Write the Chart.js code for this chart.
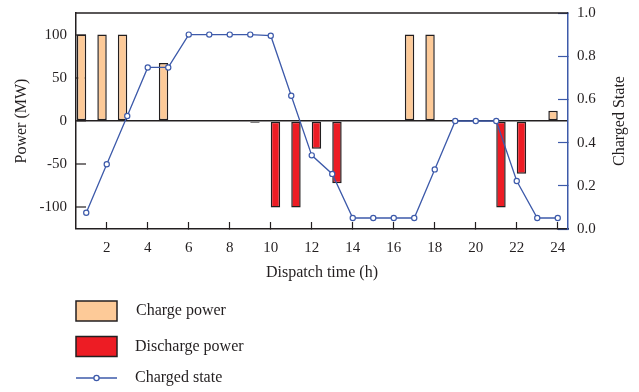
<!DOCTYPE html>
<html>
<head>
<meta charset="utf-8">
<script src="https://cdn.jsdelivr.net/npm/chart.js@4/dist/chart.umd.min.js"></script>
<style>
  html, body { margin: 0; padding: 0; background: #ffffff; }
  #wrap { width: 639px; height: 392px; position: relative; }
</style>
</head>
<body>
<div id="wrap"><canvas id="c"></canvas></div>
<script>
// ---- data ----
const hours = ['1','2','3','4','5','6','7','8','9','10','11','12','13','14','15','16','17','18','19','20','21','22','23','24'];
const chargePower    = [100, 100, 100, 0, 67, 0, 0, 0, 0, 0, 0, 0, 0, 0, 0, 0, 100, 100, 0, 0, 0, 0, 0, 12];
const dischargePower = [0, 0, 0, 0, 0, 0, 0, 0, -2, -100, -100, -32, -72, 0, 0, 0, 0, 0, 0, 0, -100, -61, 0, 0];
const chargedState   = [0.075, 0.30, 0.523, 0.748, 0.748, 0.90, 0.90, 0.90, 0.90, 0.895, 0.617, 0.341, 0.255, 0.051, 0.051, 0.051, 0.051, 0.276, 0.50, 0.50, 0.50, 0.222, 0.051, 0.051];
const powerTicks = [-100, -50, 0, 50, 100];
const stateTicks = [0, 0.2, 0.4, 0.6, 0.8, 1.0];
const seriesNames = ['Charge power', 'Discharge power', 'Charged state'];
const xTitle = 'Dispatch time (h)';
const yLeftTitle = 'Power (MW)';
const yRightTitle = 'Charged State';

const FONT = "'Liberation Serif', 'DejaVu Serif', serif";
const INK = '#231f20';
const BLUE = '#3d5aaa';
const PEACH = '#fdca98';
const RED = '#ed1c24';

const frameAndLegend = {
  id: 'frameAndLegend',
  afterDraw(chart) {
    const ctx = chart.ctx;
    const a = chart.chartArea;
    ctx.save();
    // top frame line
    ctx.strokeStyle = INK;
    ctx.lineWidth = 1.5;
    ctx.beginPath();
    ctx.moveTo(a.left, a.top);
    ctx.lineTo(a.right, a.top);
    ctx.stroke();
    // right title, reading bottom-to-top
    ctx.fillStyle = INK;
    ctx.font = '16px ' + FONT;
    ctx.textAlign = 'center';
    ctx.textBaseline = 'middle';
    ctx.translate(a.right + 52, (a.top + a.bottom) / 2);
    ctx.rotate(-Math.PI / 2);
    ctx.fillText(yRightTitle, 0, 0);
    ctx.restore();

    // legend
    ctx.save();
    const ds = chart.data.datasets;
    const x0 = a.left, bw = 41, tx = a.left + 59;
    const rows = [a.bottom + 82, a.bottom + 117.5, a.bottom + 149];
    ctx.font = '16px ' + FONT;
    ctx.textBaseline = 'middle';
    ctx.textAlign = 'left';
    for (let i = 0; i < 2; i++) {
      const cy = rows[i];
      ctx.fillStyle = ds[i].backgroundColor;
      ctx.fillRect(x0, cy - 10, bw, 20);
      ctx.strokeStyle = ds[i].borderColor;
      ctx.lineWidth = 1.5;
      ctx.strokeRect(x0, cy - 10, bw, 20);
      ctx.fillStyle = INK;
      ctx.fillText(ds[i].label, tx + (i === 0 ? 1 : 0), cy);
    }
    const ly = rows[2];
    ctx.strokeStyle = ds[2].borderColor;
    ctx.lineWidth = 1.3;
    ctx.beginPath();
    ctx.moveTo(x0, ly);
    ctx.lineTo(x0 + bw, ly);
    ctx.stroke();
    ctx.beginPath();
    ctx.arc(x0 + bw / 2, ly, 2.6, 0, Math.PI * 2);
    ctx.fillStyle = '#ffffff';
    ctx.fill();
    ctx.stroke();
    ctx.fillStyle = INK;
    ctx.fillText(ds[2].label, tx, ly);
    ctx.restore();
  }
};

new Chart(document.getElementById('c'), {
  type: 'bar',
  data: {
    labels: hours,
    datasets: [
      {
        type: 'bar',
        label: seriesNames[0],
        data: chargePower,
        backgroundColor: PEACH,
        borderColor: INK,
        borderWidth: 1.5,
        borderSkipped: false,
        yAxisID: 'y',
        order: 1,
        categoryPercentage: 0.92,
        barPercentage: 1.0
      },
      {
        type: 'bar',
        label: seriesNames[1],
        data: dischargePower,
        backgroundColor: RED,
        borderColor: INK,
        borderWidth: 1.5,
        borderSkipped: false,
        yAxisID: 'y',
        order: 2,
        categoryPercentage: 0.92,
        barPercentage: 1.0
      },
      {
        type: 'line',
        label: seriesNames[2],
        data: chargedState,
        borderColor: BLUE,
        borderWidth: 1.3,
        pointRadius: 2.6,
        pointBackgroundColor: '#ffffff',
        pointBorderColor: BLUE,
        pointBorderWidth: 1.2,
        tension: 0,
        yAxisID: 'y1',
        order: 0
      }
    ]
  },
  options: {
    responsive: true,
    maintainAspectRatio: false,
    animation: false,
    layout: { padding: { top: 13, bottom: 103, left: 0, right: 0 } },
    plugins: {
      legend: { display: false },
      tooltip: { enabled: false }
    },
    scales: {
      x: {
        type: 'category',
        offset: true,
        grid: {
          display: true,
          offset: false,
          drawOnChartArea: false,
          drawTicks: true,
          tickLength: -7,
          tickWidth: 1.2,
          color: 'transparent',
          tickColor: (c) => (c.index % 2 === 1 ? INK : 'transparent')
        },
        border: { display: true, color: INK, width: 1.5 },
        ticks: {
          autoSkip: false,
          maxRotation: 0,
          padding: 17,
          color: INK,
          font: { family: FONT, size: 15 },
          callback: function (v, i) { return i % 2 === 1 ? this.getLabelForValue(v) : ''; }
        },
        title: {
          display: true,
          text: xTitle,
          color: INK,
          font: { family: FONT, size: 16 },
          padding: { top: 0, bottom: 7 }
        },
        afterFit: (s) => { s.height = 60; s.paddingLeft = 0; s.paddingRight = 0; }
      },
      y: {
        type: 'linear',
        position: 'left',
        min: -125,
        max: 125,
        z: 1,
        afterBuildTicks: (s) => { s.ticks = powerTicks.map(v => ({ value: v })); },
        grid: {
          drawOnChartArea: true,
          drawTicks: true,
          tickLength: -10,
          tickWidth: 1.2,
          tickColor: INK,
          color: (c) => (c.tick && c.tick.value === 0 ? INK : 'transparent'),
          lineWidth: (c) => (c.tick && c.tick.value === 0 ? 1.6 : 0)
        },
        border: { display: true, color: INK, width: 1.5 },
        ticks: {
          padding: 19,
          color: INK,
          font: { family: FONT, size: 15 }
        },
        title: {
          display: true,
          text: yLeftTitle,
          color: INK,
          font: { family: FONT, size: 16 },
          padding: { top: 12, bottom: 0 }
        },
        afterFit: (s) => { s.width = 76; s.paddingTop = 0; s.paddingBottom = 0; }
      },
      y1: {
        type: 'linear',
        position: 'right',
        min: 0,
        max: 1,
        afterBuildTicks: (s) => { s.ticks = stateTicks.map(v => ({ value: v })); },
        grid: {
          drawOnChartArea: false,
          drawTicks: true,
          tickLength: -10,
          tickWidth: 1.2,
          tickColor: BLUE,
          color: BLUE
        },
        border: { display: true, color: BLUE, width: 1.5 },
        ticks: {
          padding: 19,
          color: INK,
          font: { family: FONT, size: 15 },
          callback: (v) => Number(v).toFixed(1)
        },
        title: { display: false },
        afterFit: (s) => { s.width = 71; s.paddingTop = 0; s.paddingBottom = 0; }
      }
    }
  },
  plugins: [frameAndLegend]
});
</script>
</body>
</html>
